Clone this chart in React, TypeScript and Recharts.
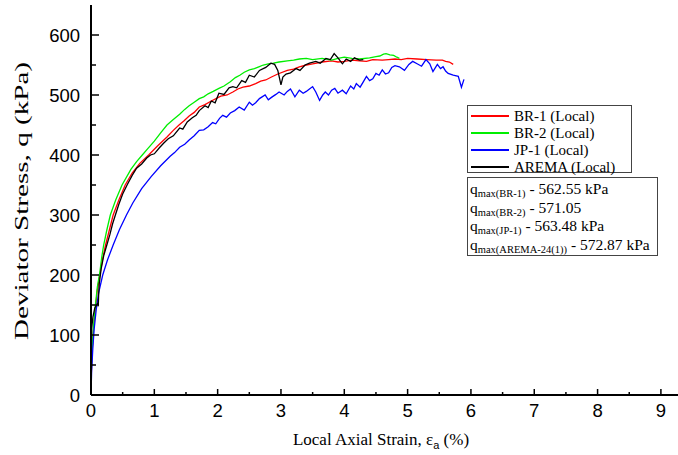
import React from "react";
import { LineChart, Line, XAxis, YAxis } from "recharts";

// ---- data: [local axial strain (%), deviator stress q (kPa)] ----
const br1Points: [number, number][] = [
  [0, 0], [0.005, 35], [0.02, 75], [0.04, 110], [0.07, 145], [0.1, 175], [0.14, 200],
  [0.18, 225], [0.23, 250], [0.29, 275], [0.35, 300], [0.44, 325], [0.54, 350], [0.65, 370],
  [0.77, 386], [0.91, 400], [1.05, 415], [1.2, 430], [1.3, 441], [1.39, 450], [1.47, 457],
  [1.55, 465], [1.63, 471], [1.71, 480], [1.8, 484], [1.9, 490], [2.05, 498], [2.15, 500],
  [2.24, 505], [2.32, 510], [2.4, 513], [2.5, 515], [2.6, 519], [2.68, 523], [2.76, 525],
  [2.85, 530], [2.95, 535], [3.1, 541], [3.2, 543], [3.29, 547], [3.4, 550], [3.5, 552],
  [3.65, 555], [3.8, 557], [3.9, 555], [4.0, 556], [4.12, 558], [4.24, 557], [4.35, 556],
  [4.45, 559], [4.6, 558], [4.7, 559], [4.8, 560], [4.9, 559], [5.0, 561], [5.15, 560],
  [5.3, 559], [5.45, 558], [5.55, 558], [5.6, 556], [5.66, 555], [5.72, 551],
];

const br2Points: [number, number][] = [
  [0, 0], [0.005, 40], [0.02, 80], [0.04, 115], [0.07, 150], [0.1, 180], [0.14, 205],
  [0.17, 230], [0.2, 250], [0.25, 275], [0.305, 300], [0.39, 325], [0.49, 350], [0.63, 376],
  [0.72, 389], [0.81, 400], [0.9, 411], [1.0, 423], [1.1, 437], [1.2, 450], [1.3, 459],
  [1.4, 468], [1.48, 476], [1.55, 482], [1.63, 488], [1.71, 494], [1.78, 497], [1.85, 502],
  [1.93, 506], [2.02, 511], [2.1, 515], [2.2, 522], [2.28, 529], [2.35, 533], [2.42, 538],
  [2.5, 542], [2.58, 544], [2.65, 547], [2.72, 550], [2.8, 552], [2.88, 553], [2.97, 555],
  [3.1, 557], [3.2, 558], [3.29, 560], [3.4, 561], [3.5, 559], [3.65, 561], [3.8, 558],
  [3.9, 561], [4.0, 563], [4.12, 561], [4.24, 560], [4.4, 562], [4.5, 564], [4.56, 565],
  [4.62, 568], [4.66, 569], [4.72, 567], [4.78, 566], [4.83, 563], [4.87, 561],
];

const jp1Points: [number, number][] = [
  [0, 0], [0.01, 40], [0.03, 80], [0.05, 110], [0.08, 140], [0.12, 170], [0.185, 200],
  [0.26, 225], [0.35, 250], [0.45, 276], [0.56, 300], [0.66, 320], [0.8, 344], [0.95, 364],
  [1.1, 382], [1.25, 398], [1.32, 404], [1.4, 413], [1.48, 418], [1.55, 425], [1.63, 432],
  [1.71, 441], [1.78, 442], [1.85, 447], [1.92, 454], [1.97, 452], [2.03, 461], [2.08, 466],
  [2.14, 463], [2.2, 470], [2.27, 474], [2.34, 480], [2.42, 475], [2.5, 488], [2.55, 483],
  [2.6, 487], [2.66, 494], [2.75, 500], [2.8, 492], [2.85, 496], [2.92, 501], [2.97, 505],
  [3.05, 500], [3.1, 506], [3.15, 510], [3.22, 497], [3.29, 508], [3.35, 503], [3.4, 506],
  [3.45, 510], [3.5, 514], [3.55, 505], [3.61, 491], [3.66, 500], [3.7, 505], [3.75, 500],
  [3.8, 508], [3.85, 511], [3.9, 503], [3.97, 508], [4.03, 502], [4.1, 515], [4.15, 510],
  [4.19, 519], [4.25, 513], [4.3, 522], [4.35, 531], [4.4, 524], [4.45, 527], [4.5, 536],
  [4.55, 533], [4.6, 542], [4.65, 535], [4.7, 537], [4.75, 546], [4.8, 549], [4.87, 547],
  [4.95, 541], [5.02, 551], [5.08, 556], [5.15, 552], [5.22, 548], [5.29, 559], [5.35, 552],
  [5.4, 539], [5.47, 551], [5.52, 544], [5.56, 547], [5.6, 540], [5.64, 536], [5.72, 533],
  [5.8, 531], [5.85, 513], [5.89, 526],
];

const aremaPoints: [number, number][] = [
  [0, 0], [0.002, 40], [0.005, 80], [0.01, 110], [0.03, 130], [0.06, 145], [0.1, 152],
  [0.115, 148], [0.12, 165], [0.13, 185], [0.16, 210], [0.2, 232], [0.25, 250], [0.3, 268],
  [0.34, 285], [0.385, 300], [0.44, 318], [0.5, 335], [0.57, 350], [0.65, 366], [0.72, 378],
  [0.8, 385], [0.88, 395], [0.94, 400], [1.0, 402], [1.08, 412], [1.15, 420], [1.22, 427],
  [1.3, 432], [1.4, 445], [1.45, 443], [1.52, 455], [1.6, 462], [1.66, 466], [1.71, 474],
  [1.8, 482], [1.85, 479], [1.9, 490], [1.96, 487], [2.02, 503], [2.1, 501], [2.18, 512],
  [2.24, 514], [2.3, 512], [2.38, 524], [2.44, 521], [2.5, 533], [2.58, 530], [2.66, 541],
  [2.76, 546], [2.84, 553], [2.9, 551], [2.95, 541], [3.0, 517], [3.03, 530], [3.08, 535],
  [3.15, 537], [3.24, 544], [3.3, 541], [3.38, 550], [3.45, 553], [3.55, 556], [3.62, 553],
  [3.71, 561], [3.78, 559], [3.84, 569], [3.9, 562], [3.97, 552], [4.03, 560], [4.1, 556],
  [4.16, 562], [4.24, 558], [4.3, 559],
];

const xTicks = [0, 0.5, 1, 1.5, 2, 2.5, 3, 3.5, 4, 4.5, 5, 5.5, 6, 6.5, 7, 7.5, 8, 8.5, 9];
const yTicks = [0, 50, 100, 150, 200, 250, 300, 350, 400, 450, 500, 550, 600];

const seriesNames = ["BR-1 (Local)", "BR-2 (Local)", "JP-1 (Local)", "AREMA (Local)"];
const seriesColors = ["#ff0000", "#00ee00", "#0000ff", "#000000"];
const qmaxLabels = ["BR-1", "BR-2", "JP-1", "AREMA-24(1)"];
const qmaxValues = ["562.55 kPa", "571.05", "563.48 kPa", "572.87 kPa"];

const toRows = (pts: [number, number][]) => pts.map(([x, q]) => ({ x, q }));

// ---- layout ----
const W = 678;
const H = 455;
const PLOT_LEFT = 91;
const PLOT_TOP = 5;
const PLOT_BOTTOM = 395;

const SANS = "'Liberation Sans', Arial, sans-serif";
const SERIF = "'Liberation Serif', 'Times New Roman', serif";

const YTick = (props: any) => {
  const { y, payload } = props;
  const major = payload.value % 100 === 0;
  return (
    <g>
      <line x1={PLOT_LEFT} x2={PLOT_LEFT + (major ? 8 : 5)} y1={y} y2={y} stroke="#000" strokeWidth={1.5} />
      {major && (
        <text x={80} y={y} dy={6.5} textAnchor="end" fontFamily={SANS} fontSize={18.5} fill="#000">
          {payload.value}
        </text>
      )}
    </g>
  );
};

const XTick = (props: any) => {
  const { x, payload } = props;
  const major = Number.isInteger(payload.value);
  return (
    <g>
      <line x1={x} x2={x} y1={PLOT_BOTTOM} y2={PLOT_BOTTOM - (major ? 6 : 3)} stroke="#000" strokeWidth={1.5} />
      {major && (
        <text x={x} y={PLOT_BOTTOM + 22} textAnchor="middle" fontFamily={SANS} fontSize={18.5} fill="#000">
          {payload.value}
        </text>
      )}
    </g>
  );
};

const TopTick = (props: any) => {
  const { x, payload } = props;
  const major = Number.isInteger(payload.value);
  return (
    <line x1={x} x2={x} y1={PLOT_TOP} y2={PLOT_TOP + (major ? 6 : 3)} stroke="#000" strokeWidth={1.5} />
  );
};

export default function App() {
  const datasets = [br1Points, br2Points, jp1Points, aremaPoints].map(toRows);
  return (
    <div style={{ position: "absolute", left: 0, top: 0, width: W, height: H, background: "#fff" }}>
      <LineChart width={W} height={H} margin={{ top: PLOT_TOP, right: 0, bottom: 0, left: 0 }}>
        <XAxis
          xAxisId="bottom"
          type="number"
          dataKey="x"
          domain={[0, 9.27]}
          allowDataOverflow
          ticks={xTicks}
          tick={<XTick />}
          tickLine={false}
          axisLine={{ stroke: "#000", strokeWidth: 2 }}
          height={H - PLOT_BOTTOM}
          interval={0}
        />
        <XAxis
          xAxisId="top"
          orientation="top"
          type="number"
          dataKey="x"
          domain={[0, 9.27]}
          allowDataOverflow
          ticks={xTicks}
          tick={<TopTick />}
          tickLine={false}
          axisLine={{ stroke: "#000", strokeWidth: 2 }}
          height={0}
          interval={0}
        />
        <YAxis
          type="number"
          domain={[0, 650]}
          ticks={yTicks}
          tick={<YTick />}
          tickLine={false}
          axisLine={{ stroke: "#000", strokeWidth: 2 }}
          width={PLOT_LEFT}
          interval={0}
        />
        {datasets.map((d, i) => (
          <Line
            key={seriesNames[i]}
            xAxisId="bottom"
            data={d}
            dataKey="q"
            type="linear"
            stroke={seriesColors[i]}
            strokeWidth={1.3}
            dot={false}
            activeDot={false}
            isAnimationActive={false}
          />
        ))}
      </LineChart>

      {/* axis titles */}
      <svg width={W} height={H} style={{ position: "absolute", left: 0, top: 0, pointerEvents: "none" }}>
        <text
          transform="translate(28, 201) rotate(-90)"
          textAnchor="middle"
          fontFamily={SERIF}
          fontSize={19}
          textLength={278}
          lengthAdjust="spacingAndGlyphs"
          fill="#000"
        >
          Deviator Stress, q (kPa)
        </text>
        <text x={381} y={445} textAnchor="middle" fontFamily={SERIF} fontSize={17} fill="#000">
          <tspan>Local Axial Strain, ε</tspan>
          <tspan fontFamily={SANS} fontSize={11} dy={4}>a</tspan>
          <tspan dy={-4}> (%)</tspan>
        </text>
      </svg>

      {/* series legend */}
      <div
        style={{
          position: "absolute", left: 467, top: 105, width: 165, height: 68,
          boxSizing: "border-box", border: "1px solid #444", background: "#fff",
          fontFamily: SERIF, fontSize: 15, color: "#000",
        }}
      >
        {seriesNames.map((n, i) => (
          <div key={n} style={{ position: "absolute", left: 0, top: 2 + i * 17, height: 16, width: "100%" }}>
            <div style={{ position: "absolute", left: 3, top: 7, width: 38, height: 2, background: seriesColors[i] }} />
            <div style={{ position: "absolute", left: 46, top: 0, lineHeight: "16px", whiteSpace: "nowrap" }}>{n}</div>
          </div>
        ))}
      </div>

      {/* q max box */}
      <div
        style={{
          position: "absolute", left: 467, top: 177, width: 191, height: 79,
          boxSizing: "border-box", border: "1px solid #444", background: "#fff",
          fontFamily: SERIF, fontSize: 15.5, color: "#000",
        }}
      >
        {qmaxLabels.map((l, i) => (
          <div
            key={l}
            style={{ position: "absolute", left: 2, top: 3 + i * 18.5, lineHeight: "16px", whiteSpace: "nowrap" }}
          >
            q<sub style={{ fontSize: 10.5, verticalAlign: "-3px" }}>max({l})</sub> - {qmaxValues[i]}
          </div>
        ))}
      </div>
    </div>
  );
}
